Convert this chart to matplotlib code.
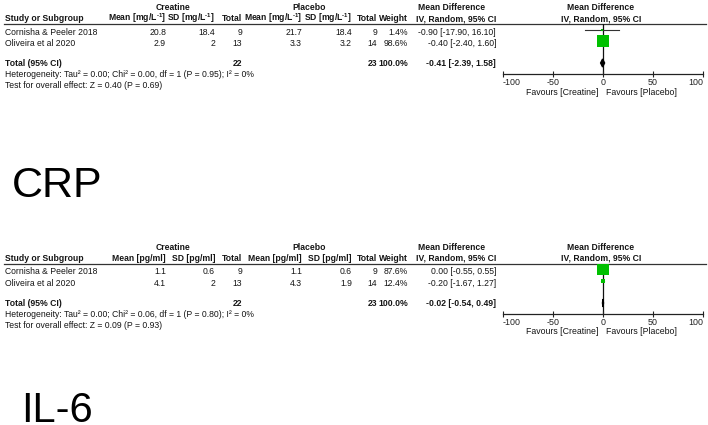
import matplotlib
matplotlib.use("Agg")
import matplotlib.pyplot as plt
from matplotlib.patches import Polygon
import math

plt.rcParams['font.family'] = ['Liberation Sans', 'DejaVu Sans']
plt.rcParams['mathtext.fontset'] = 'custom'
plt.rcParams['mathtext.rm'] = 'Liberation Sans'
plt.rcParams['mathtext.bf'] = 'Liberation Sans:bold'
plt.rcParams['mathtext.default'] = 'regular'

W, H = 708, 425

studies = ["Cornisha & Peeler 2018", "Oliveira et al 2020"]

# CRP panel
crp_cr_mean = [20.8, 2.9]
crp_cr_sd = [18.4, 2]
crp_cr_n = [9, 13]
crp_pl_mean = [21.7, 3.3]
crp_pl_sd = [18.4, 3.2]
crp_pl_n = [9, 14]
crp_weight = [1.4, 98.6]
crp_md = [-0.90, -0.40]
crp_lo = [-17.90, -2.40]
crp_hi = [16.10, 1.60]
crp_total = [-0.41, -2.39, 1.58]
crp_unit = "mg/L$^{\u20101}$"
crp_het = "Heterogeneity: Tau\u00b2 = 0.00; Chi\u00b2 = 0.00, df = 1 (P = 0.95); I\u00b2 = 0%"
crp_test = "Test for overall effect: Z = 0.40 (P = 0.69)"

# IL-6 panel
il6_cr_mean = [1.1, 4.1]
il6_cr_sd = [0.6, 2]
il6_cr_n = [9, 13]
il6_pl_mean = [1.1, 4.3]
il6_pl_sd = [0.6, 1.9]
il6_pl_n = [9, 14]
il6_weight = [87.6, 12.4]
il6_md = [0.00, -0.20]
il6_lo = [-0.55, -1.67]
il6_hi = [0.55, 1.27]
il6_total = [-0.02, -0.54, 0.49]
il6_unit = "pg/ml"
il6_het = "Heterogeneity: Tau\u00b2 = 0.00; Chi\u00b2 = 0.06, df = 1 (P = 0.80); I\u00b2 = 0%"
il6_test = "Test for overall effect: Z = 0.09 (P = 0.93)"

axis_ticks = [-100, -50, 0, 50, 100]
axis_labels = ["-100", "-50", "0", "50", "100"]

FS = 6.2
TC = "#151515"

fig = plt.figure(figsize=(W / 100, H / 100), dpi=100)
ov = fig.add_axes([0, 0, 1, 1])
ov.set_xlim(0, W)
ov.set_ylim(H, 0)
ov.axis('off')


def t(x, y, s, ha='left', bold=False, size=FS):
    ov.text(x, y, s, ha=ha, va='baseline', fontsize=size,
            fontweight='bold' if bold else 'normal', color=TC)


def fmt(v):
    return f"{v:g}"


# right edges of the table columns (pixels)
COLS = [166, 215, 242, 302, 352, 377, 408, 496]


def panel(off, unit, cm, csd, cn, pm, psd, pn, wt, md, lo, hi, tot, het, test):
    c = COLS
    # group headers
    t(173, 10 + off, "Creatine", ha='center', bold=True)
    t(309, 10 + off, "Placebo", ha='center', bold=True)
    t(452, 10 + off, "Mean Difference", ha='center', bold=True)
    t(601, 10 + off, "Mean Difference", ha='center', bold=True)
    # column headers
    hy = 21 + off
    t(5, hy, "Study or Subgroup", bold=True)
    t(c[0], hy, f"Mean [{unit}]", ha='right', bold=True)
    t(c[1], hy, f"SD [{unit}]", ha='right', bold=True)
    t(c[2], hy, "Total", ha='right', bold=True)
    t(c[3], hy, f"Mean [{unit}]", ha='right', bold=True)
    t(c[4], hy, f"SD [{unit}]", ha='right', bold=True)
    t(c[5], hy, "Total", ha='right', bold=True)
    t(c[6], hy, "Weight", ha='right', bold=True)
    t(c[7], hy, "IV, Random, 95% CI", ha='right', bold=True)
    t(601, hy, "IV, Random, 95% CI", ha='center', bold=True)
    ov.plot([4, 706], [23.5 + off, 23.5 + off], color='#333333', lw=0.9)
    # rows
    for i, name in enumerate(studies):
        y = 34.5 + off + i * 11
        t(5, y, name)
        t(c[0], y, fmt(cm[i]), ha='right')
        t(c[1], y, fmt(csd[i]), ha='right')
        t(c[2], y, fmt(cn[i]), ha='right')
        t(c[3], y, fmt(pm[i]), ha='right')
        t(c[4], y, fmt(psd[i]), ha='right')
        t(c[5], y, fmt(pn[i]), ha='right')
        t(c[6], y, f"{wt[i]:.1f}%", ha='right')
        t(c[7], y, f"{md[i]:.2f} [{lo[i]:.2f}, {hi[i]:.2f}]", ha='right')
    ty = 65.5 + off
    t(5, ty, "Total (95% CI)", bold=True)
    t(c[2], ty, str(sum(cn)), ha='right', bold=True)
    t(c[5], ty, str(sum(pn)), ha='right', bold=True)
    t(c[6], ty, f"{sum(wt):.1f}%", ha='right', bold=True)
    t(c[7], ty, f"{tot[0]:.2f} [{tot[1]:.2f}, {tot[2]:.2f}]", ha='right', bold=True)
    t(5, 77 + off, het)
    t(5, 88 + off, test)
    # forest axes: data y == figure pixel y
    top, bot = 23.5 + off, 73.5 + off
    fa = fig.add_axes([503 / W, 1 - bot / H, 200 / W, (bot - top) / H])
    fa.set_xlim(-100, 100)
    fa.set_ylim(bot, top)
    fa.patch.set_alpha(0)
    for s in ['top', 'left', 'right']:
        fa.spines[s].set_visible(False)
    fa.spines['bottom'].set_linewidth(0.9)
    fa.spines['bottom'].set_color('#222222')
    fa.set_yticks([])
    fa.set_xticks(axis_ticks)
    fa.set_xticklabels(axis_labels)
    fa.tick_params(axis='x', direction='inout', length=5, width=0.8, pad=1.0,
                   labelsize=FS + 0.2, colors='#222222')
    lbls = fa.get_xticklabels()
    lbls[0].set_ha('left')
    lbls[-1].set_ha('right')
    fa.axvline(0, color='#111111', lw=0.9, zorder=1)
    for i in range(len(studies)):
        y = 29.5 + off + i * 11.5
        fa.plot([lo[i], hi[i]], [y, y], color='#333333', lw=0.8, zorder=2)
        side_px = max(2.0, 12.5 * math.sqrt(wt[i] / 100.0))
        fa.plot([md[i]], [y], marker='s', ms=side_px * 0.72, color='#00c000',
                mec='#00c000', mew=0, ls='none', zorder=3)
    dy = 63 + off
    fa.add_patch(Polygon([[tot[1], dy], [tot[0], dy - 4], [tot[2], dy], [tot[0], dy + 4]],
                         closed=True, color='black', zorder=4))
    t(598, 94.5 + off, "Favours [Creatine]", ha='right', size=FS + 0.1)
    t(606, 94.5 + off, "Favours [Placebo]", ha='left', size=FS + 0.1)


panel(0, crp_unit, crp_cr_mean, crp_cr_sd, crp_cr_n, crp_pl_mean, crp_pl_sd, crp_pl_n,
      crp_weight, crp_md, crp_lo, crp_hi, crp_total, crp_het, crp_test)
panel(240, il6_unit, il6_cr_mean, il6_cr_sd, il6_cr_n, il6_pl_mean, il6_pl_sd, il6_pl_n,
      il6_weight, il6_md, il6_lo, il6_hi, il6_total, il6_het, il6_test)

ov.text(12, 197, "CRP", ha='left', va='baseline', fontsize=31, color='black')
ov.text(21, 421.5, "IL-6", ha='left', va='baseline', fontsize=30, color='black')

fig.savefig("out.png", dpi=100)
